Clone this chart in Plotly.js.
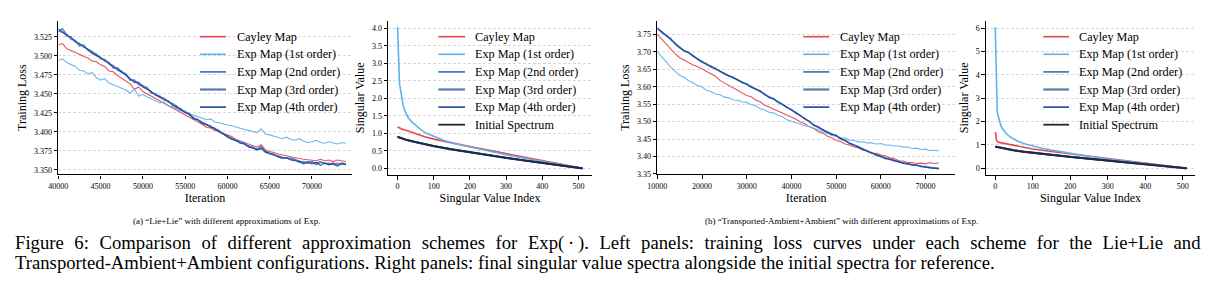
<!DOCTYPE html>
<html>
<head>
<meta charset="utf-8">
<script src="https://cdn.plot.ly/plotly-3.0.1.min.js"></script>
<style>
  html, body { margin: 0; padding: 0; background: #fff; }
  #fig { width: 1220px; height: 305px; }
</style>
</head>
<body>
<div id="fig"></div>
<script>
// ---- Training loss, "Lie+Lie" (one value every 500 iterations from 40000) ----
const lieIterStart = 40000;
const lieIterStep = 500;
const lieLossCayley = [
  3.514,3.516,3.509,3.507,3.505,3.502,3.499,3.497,3.493,3.492,
  3.488,3.486,3.480,3.479,3.474,3.470,3.466,3.463,3.456,3.459,
  3.453,3.450,3.446,3.444,3.440,3.437,3.435,3.431,3.428,3.425,
  3.423,3.420,3.416,3.413,3.410,3.406,3.405,3.402,3.400,3.398,
  3.396,3.394,3.390,3.388,3.386,3.384,3.382,3.380,3.383,3.376,
  3.374,3.373,3.371,3.370,3.368,3.368,3.366,3.365,3.364,3.363,
  3.363,3.362,3.364,3.362,3.363,3.361,3.363,3.362,3.361];
const lieLossExp1 = [
  3.494,3.496,3.491,3.489,3.486,3.481,3.480,3.476,3.478,3.471,
  3.468,3.470,3.464,3.462,3.460,3.457,3.455,3.451,3.456,3.447,
  3.449,3.446,3.443,3.441,3.438,3.439,3.434,3.433,3.430,3.428,
  3.427,3.423,3.422,3.420,3.418,3.416,3.417,3.413,3.412,3.410,
  3.409,3.408,3.406,3.405,3.403,3.402,3.400,3.399,3.404,3.397,
  3.396,3.394,3.393,3.391,3.393,3.390,3.389,3.391,3.388,3.386,
  3.387,3.389,3.386,3.385,3.387,3.386,3.384,3.386,3.385];
const lieLossExp2 = [
  3.531,3.536,3.527,3.524,3.519,3.515,3.513,3.508,3.506,3.500,
  3.497,3.494,3.490,3.485,3.483,3.480,3.474,3.469,3.466,3.464,
  3.461,3.457,3.452,3.449,3.447,3.443,3.440,3.436,3.434,3.428,
  3.427,3.422,3.419,3.415,3.413,3.410,3.407,3.404,3.402,3.397,
  3.394,3.392,3.388,3.387,3.384,3.382,3.379,3.377,3.381,3.374,
  3.372,3.370,3.368,3.367,3.365,3.366,3.363,3.362,3.359,3.361,
  3.360,3.359,3.361,3.358,3.359,3.357,3.359,3.358,3.357];
const lieLossExp3 = [
  3.533,3.530,3.528,3.522,3.520,3.513,3.514,3.507,3.504,3.502,
  3.496,3.495,3.489,3.487,3.481,3.479,3.476,3.468,3.468,3.462,
  3.460,3.458,3.451,3.450,3.445,3.444,3.439,3.437,3.432,3.430,
  3.426,3.423,3.418,3.416,3.412,3.409,3.408,3.403,3.401,3.398,
  3.393,3.391,3.389,3.386,3.385,3.381,3.380,3.376,3.379,3.375,
  3.371,3.371,3.367,3.366,3.366,3.364,3.364,3.360,3.361,3.359,
  3.361,3.357,3.360,3.359,3.357,3.359,3.356,3.359,3.358];
const lieLossExp4 = [
  3.535,3.532,3.526,3.525,3.518,3.516,3.511,3.509,3.503,3.501,
  3.498,3.493,3.491,3.484,3.484,3.478,3.475,3.470,3.465,3.465,
  3.459,3.456,3.453,3.448,3.446,3.442,3.441,3.435,3.433,3.429,
  3.425,3.424,3.417,3.416,3.411,3.410,3.406,3.405,3.400,3.397,
  3.395,3.390,3.389,3.385,3.384,3.380,3.378,3.377,3.378,3.373,
  3.372,3.369,3.368,3.365,3.366,3.363,3.362,3.361,3.358,3.360,
  3.358,3.360,3.356,3.359,3.357,3.358,3.355,3.358,3.357];

// ---- Training loss, "Transported-Ambient+Ambient" (every 1000 iterations from 10000) ----
const taIterStart = 10000;
const taIterStep = 1000;
const taLossCayley = [
  3.750,3.736,3.721,3.709,3.694,3.683,3.676,3.671,3.662,3.658,
  3.651,3.645,3.636,3.630,3.618,3.611,3.604,3.598,3.589,3.584,
  3.575,3.571,3.562,3.557,3.547,3.542,3.536,3.532,3.524,3.520,
  3.512,3.507,3.499,3.494,3.485,3.480,3.471,3.467,3.459,3.454,
  3.446,3.443,3.436,3.433,3.427,3.425,3.418,3.416,3.410,3.409,
  3.404,3.402,3.396,3.394,3.388,3.387,3.383,3.383,3.380,3.381,
  3.379,3.382,3.380,3.382];
const taLossExp1 = [
  3.700,3.684,3.671,3.656,3.645,3.632,3.627,3.617,3.611,3.603,
  3.599,3.590,3.586,3.579,3.577,3.570,3.568,3.562,3.561,3.556,
  3.555,3.548,3.546,3.537,3.533,3.527,3.525,3.518,3.514,3.505,
  3.501,3.496,3.493,3.488,3.486,3.480,3.477,3.469,3.467,3.460,
  3.458,3.454,3.453,3.447,3.446,3.442,3.442,3.439,3.439,3.436,
  3.437,3.433,3.433,3.430,3.430,3.427,3.427,3.423,3.424,3.420,
  3.421,3.417,3.418,3.416];
const taLossExp2 = [
  3.767,3.758,3.746,3.737,3.723,3.711,3.704,3.696,3.690,3.678,
  3.672,3.665,3.658,3.652,3.644,3.639,3.630,3.628,3.618,3.614,
  3.606,3.601,3.592,3.589,3.577,3.572,3.564,3.558,3.548,3.542,
  3.533,3.527,3.516,3.510,3.500,3.492,3.483,3.478,3.469,3.466,
  3.459,3.453,3.445,3.440,3.432,3.429,3.420,3.417,3.409,3.406,
  3.399,3.397,3.391,3.390,3.384,3.383,3.378,3.378,3.374,3.373,
  3.369,3.370,3.366,3.367];
const taLossExp3 = [
  3.769,3.755,3.748,3.734,3.725,3.713,3.702,3.698,3.687,3.680,
  3.670,3.666,3.656,3.653,3.643,3.637,3.632,3.625,3.620,3.611,
  3.608,3.598,3.594,3.586,3.579,3.569,3.566,3.555,3.550,3.540,
  3.535,3.524,3.518,3.507,3.502,3.489,3.485,3.475,3.471,3.463,
  3.461,3.450,3.447,3.437,3.434,3.426,3.422,3.414,3.411,3.403,
  3.401,3.394,3.393,3.387,3.386,3.380,3.380,3.375,3.376,3.371,
  3.371,3.367,3.368,3.365];
const taLossExp4 = [
  3.766,3.757,3.745,3.738,3.721,3.712,3.703,3.697,3.688,3.679,
  3.673,3.663,3.659,3.650,3.646,3.636,3.631,3.626,3.619,3.612,
  3.607,3.599,3.593,3.587,3.578,3.570,3.565,3.556,3.549,3.541,
  3.534,3.525,3.517,3.508,3.501,3.490,3.484,3.476,3.470,3.464,
  3.460,3.451,3.446,3.438,3.433,3.427,3.421,3.415,3.410,3.404,
  3.400,3.395,3.392,3.388,3.385,3.381,3.379,3.376,3.375,3.372,
  3.370,3.368,3.367,3.364];

// ---- Final singular value spectra, "Lie+Lie" ----
const specIdx = [0, 10, 25, 50, 75, 100, 150, 200, 250, 300, 350, 400, 450, 500, 511];
const lieSpecCayley  = [1.18, 1.13, 1.08, 0.99, 0.905, 0.835, 0.72, 0.62, 0.52, 0.42, 0.32, 0.225, 0.13, 0.03, 0.0];
const lieSpecExp2    = [0.905, 0.865, 0.815, 0.755, 0.695, 0.64, 0.545, 0.46, 0.38, 0.303, 0.228, 0.157, 0.087, 0.018, 0.0];
const lieSpecExp3    = [0.90, 0.86, 0.81, 0.75, 0.69, 0.635, 0.54, 0.455, 0.375, 0.30, 0.225, 0.155, 0.085, 0.017, 0.0];
const lieSpecExp4    = [0.905, 0.862, 0.812, 0.752, 0.692, 0.637, 0.542, 0.457, 0.377, 0.301, 0.226, 0.156, 0.086, 0.017, 0.0];
const lieSpecInitial = [0.90, 0.86, 0.81, 0.75, 0.69, 0.635, 0.54, 0.455, 0.375, 0.30, 0.225, 0.155, 0.085, 0.017, 0.0];
const lieExp1Idx  = [0, 1, 2, 3, 4, 5, 6, 8, 10, 12, 15, 20, 25, 30, 40, 50, 65, 80, 100, 125, 150, 200, 250, 300, 350, 400, 450, 500, 511];
const lieSpecExp1 = [4.03, 3.55, 3.15, 2.85, 2.65, 2.5, 2.38, 2.22, 2.1, 2.0, 1.82, 1.64, 1.52, 1.44, 1.32, 1.23, 1.1, 1.0, 0.91, 0.81, 0.725, 0.61, 0.5, 0.39, 0.29, 0.195, 0.105, 0.022, 0.0];

// ---- Final singular value spectra, "Transported-Ambient+Ambient" ----
const taSpecIdx     = [0, 25, 50, 75, 100, 150, 200, 250, 300, 350, 400, 450, 500, 511];
const taSpecInitial = [0.93, 0.84, 0.77, 0.71, 0.66, 0.57, 0.49, 0.41, 0.33, 0.25, 0.175, 0.10, 0.02, 0.0];
const taSpecExp2    = [0.935, 0.845, 0.775, 0.715, 0.665, 0.575, 0.495, 0.414, 0.334, 0.253, 0.177, 0.101, 0.021, 0.0];
const taSpecExp3    = [0.93, 0.84, 0.772, 0.712, 0.662, 0.572, 0.492, 0.412, 0.332, 0.251, 0.176, 0.10, 0.02, 0.0];
const taSpecExp4    = [0.932, 0.842, 0.771, 0.711, 0.661, 0.571, 0.491, 0.411, 0.331, 0.251, 0.175, 0.10, 0.02, 0.0];
const taCayleyIdx   = [0, 1, 2, 3, 4, 6, 10, 25, 50, 75, 100, 150, 200, 250, 300, 350, 400, 450, 500, 511];
const taSpecCayley  = [1.55, 1.50, 1.38, 1.22, 1.16, 1.13, 1.11, 1.06, 0.98, 0.90, 0.83, 0.72, 0.62, 0.52, 0.42, 0.32, 0.225, 0.13, 0.03, 0.0];
const taExp1Idx     = [0, 1, 2, 3, 4, 5, 6, 8, 10, 12, 15, 20, 25, 30, 40, 50, 60, 80, 100, 125, 150, 200, 250, 300, 350, 400, 450, 500, 511];
const taSpecExp1    = [6.05, 5.1, 4.1, 3.3, 2.8, 2.5, 2.35, 2.2, 2.05, 1.95, 1.82, 1.68, 1.57, 1.48, 1.34, 1.24, 1.16, 1.04, 0.95, 0.86, 0.78, 0.64, 0.52, 0.40, 0.30, 0.20, 0.11, 0.025, 0.0];

// ---- Series styling ----
const FONT = 'Liberation Serif, Times New Roman, serif';
const STYLE = {
  cayley:  { name: 'Cayley Map',          color: '#e8464f', lw: 1.1, sw: 1.6 },
  exp1:    { name: 'Exp Map (1st order)', color: '#62b3ea', lw: 1.1, sw: 1.6 },
  exp2:    { name: 'Exp Map (2nd order)', color: '#3a6db8', lw: 1.1, sw: 1.6 },
  exp3:    { name: 'Exp Map (3rd order)', color: '#547cb2', lw: 1.6, sw: 2.2 },
  exp4:    { name: 'Exp Map (4th order)', color: '#1a44a3', lw: 1.1, sw: 1.6 },
  initial: { name: 'Initial Spectrum',    color: '#25263a', lw: 1.6, sw: 1.8 }
};

function iterAxis(start, step, n) {
  const xs = [];
  for (let i = 0; i < n; i++) xs.push(start + i * step);
  return xs;
}

function lossTrace(key, ys, start, step, ax) {
  const s = STYLE[key];
  return {
    type: 'scatter', mode: 'lines', name: s.name, showlegend: false,
    x: iterAxis(start, step, ys.length), y: ys,
    xaxis: 'x' + ax, yaxis: 'y' + ax,
    line: { color: s.color, width: s.lw }, opacity: 0.92
  };
}

function specTrace(key, xs, ys, ax) {
  const s = STYLE[key];
  return {
    type: 'scatter', mode: 'lines', name: s.name, showlegend: false,
    x: xs, y: ys,
    xaxis: 'x' + ax, yaxis: 'y' + ax,
    line: { color: s.color, width: s.sw }
  };
}

const traces = [
  lossTrace('cayley', lieLossCayley, lieIterStart, lieIterStep, ''),
  lossTrace('exp1',   lieLossExp1,   lieIterStart, lieIterStep, ''),
  lossTrace('exp2',   lieLossExp2,   lieIterStart, lieIterStep, ''),
  lossTrace('exp3',   lieLossExp3,   lieIterStart, lieIterStep, ''),
  lossTrace('exp4',   lieLossExp4,   lieIterStart, lieIterStep, ''),

  specTrace('cayley',  specIdx,    lieSpecCayley,  '2'),
  specTrace('exp1',    lieExp1Idx, lieSpecExp1,    '2'),
  specTrace('exp2',    specIdx,    lieSpecExp2,    '2'),
  specTrace('exp3',    specIdx,    lieSpecExp3,    '2'),
  specTrace('exp4',    specIdx,    lieSpecExp4,    '2'),
  specTrace('initial', specIdx,    lieSpecInitial, '2'),

  lossTrace('cayley', taLossCayley, taIterStart, taIterStep, '3'),
  lossTrace('exp1',   taLossExp1,   taIterStart, taIterStep, '3'),
  lossTrace('exp2',   taLossExp2,   taIterStart, taIterStep, '3'),
  lossTrace('exp3',   taLossExp3,   taIterStart, taIterStep, '3'),
  lossTrace('exp4',   taLossExp4,   taIterStart, taIterStep, '3'),

  specTrace('cayley',  taCayleyIdx, taSpecCayley,  '4'),
  specTrace('exp1',    taExp1Idx,   taSpecExp1,    '4'),
  specTrace('exp2',    taSpecIdx,   taSpecExp2,    '4'),
  specTrace('exp3',    taSpecIdx,   taSpecExp3,    '4'),
  specTrace('exp4',    taSpecIdx,   taSpecExp4,    '4'),
  specTrace('initial', taSpecIdx,   taSpecInitial, '4')
];

// Shared axis look: left/bottom spines, outside ticks, dashed horizontal grid
const tickFont = { family: FONT, size: 8, color: '#000' };
const titleFont = { family: FONT, size: 12, color: '#000' };
function xAxis(domain, range, tick0, dtick, anchor, title) {
  return {
    domain: domain, range: range, anchor: anchor,
    tick0: tick0, dtick: dtick, tickformat: 'd',
    showline: true, linecolor: '#000', linewidth: 1.3,
    ticks: 'outside', ticklen: 3.5, tickwidth: 1, tickcolor: '#000',
    showgrid: false, zeroline: false, tickfont: tickFont,
    title: { text: title, font: titleFont, standoff: 2 },
    fixedrange: true
  };
}
function yAxis(domain, range, tick0, dtick, fmt, anchor, title) {
  return {
    domain: domain, range: range, anchor: anchor,
    tick0: tick0, dtick: dtick, tickformat: fmt,
    showline: true, linecolor: '#000', linewidth: 1.3,
    ticks: 'outside', ticklen: 3.5, tickwidth: 1, tickcolor: '#000',
    showgrid: true, gridcolor: '#d9d9d9', gridwidth: 0.8, griddash: '3px,2px',
    zeroline: false, tickfont: tickFont,
    title: { text: title, font: titleFont, standoff: 4 },
    fixedrange: true
  };
}

// Legend boxes drawn in page pixels: sample line + label for each entry
const W = 1220, H = 305;
const LEGEND_ROW = 17.6;
const legendFont = { family: FONT, size: 12.2, color: '#000' };
const shapes = [];
const annotations = [];
function addLegend(keys, lineX0, lineX1, textX, firstRowY) {
  keys.forEach((key, i) => {
    const s = STYLE[key];
    const yPx = firstRowY + i * LEGEND_ROW;
    shapes.push({
      type: 'line', xref: 'paper', yref: 'paper',
      x0: lineX0 / W, x1: lineX1 / W, y0: 1 - yPx / H, y1: 1 - yPx / H,
      line: { color: s.color, width: s.sw }
    });
    annotations.push({
      text: s.name, x: textX / W, y: 1 - yPx / H, xref: 'paper', yref: 'paper',
      xanchor: 'left', yanchor: 'middle', showarrow: false, font: legendFont
    });
  });
}
const lossKeys = ['cayley', 'exp1', 'exp2', 'exp3', 'exp4'];
const specKeys = ['cayley', 'exp1', 'exp2', 'exp3', 'exp4', 'initial'];
addLegend(lossKeys, 200, 226, 234.5, 36.7);
addLegend(specKeys, 438.3, 465, 473.3, 36.7);
addLegend(lossKeys, 803.3, 829.3, 837.7, 36.7);
addLegend(specKeys, 1043.3, 1069, 1077.3, 36.7);

// Sub-figure captions and the figure caption (first line justified to the text width)
const capFont = { family: FONT, size: 18.7, color: '#000' };
const subFont = { family: FONT, size: 9, color: '#000' };
annotations.push(
  { text: '(a) \u201cLie+Lie\u201d with different approximations of Exp.',
    x: 227 / W, y: 1 - 220.7 / H, xref: 'paper', yref: 'paper',
    xanchor: 'center', yanchor: 'middle', showarrow: false, font: subFont },
  { text: '(b) \u201cTransported-Ambient+Ambient\u201d with different approximations of Exp.',
    x: 841 / W, y: 1 - 220.7 / H, xref: 'paper', yref: 'paper',
    xanchor: 'center', yanchor: 'middle', showarrow: false, font: subFont },
  { text: '<span style="word-spacing:5.9px">Figure 6: Comparison of different approximation schemes for Exp(\u2009\u00b7\u2009). Left panels: training loss curves under each scheme for the Lie+Lie and</span>',
    x: 13 / W, y: 1 - 243.3 / H, xref: 'paper', yref: 'paper',
    xanchor: 'left', yanchor: 'middle', showarrow: false, font: capFont },
  { text: 'Transported-Ambient+Ambient configurations. Right panels: final singular value spectra alongside the initial spectra for reference.',
    x: 13 / W, y: 1 - 262.7 / H, xref: 'paper', yref: 'paper',
    xanchor: 'left', yanchor: 'middle', showarrow: false, font: capFont }
);

const yDom = [0.4262, 0.9321];
const layout = {
  width: W, height: H,
  margin: { l: 0, r: 0, t: 0, b: 0 },
  paper_bgcolor: '#fff', plot_bgcolor: '#fff',
  font: { family: FONT, color: '#000' },
  showlegend: false,

  xaxis:  xAxis([0.0478, 0.2883], [40000, 74700], 40000, 5000, 'y', 'Iteration'),
  yaxis:  yAxis([0.4279, 0.9321], [3.344, 3.546], 3.35, 0.025, '.3f', 'x', 'Training Loss'),
  xaxis2: xAxis([0.3183, 0.4850], [-25.6, 536.6], 0, 100, 'y2', 'Singular Value Index'),
  yaxis2: yAxis(yDom, [-0.19, 4.217], 0, 0.5, '.1f', 'x2', 'Singular Value'),
  xaxis3: xAxis([0.5388, 0.7828], [10000, 76600], 10000, 10000, 'y3', 'Iteration'),
  yaxis3: yAxis([0.4285, 0.9321], [3.349, 3.789], 3.35, 0.05, '.2f', 'x3', 'Training Loss'),
  xaxis4: xAxis([0.8082, 0.9795], [-24.8, 532.8], 0, 100, 'y4', 'Singular Value Index'),
  yaxis4: yAxis(yDom, [-0.287, 6.326], 0, 1, 'd', 'x4', 'Singular Value'),

  shapes: shapes,
  annotations: annotations
};

Plotly.newPlot('fig', traces, layout, { displayModeBar: false, responsive: false });
</script>
</body>
</html>
